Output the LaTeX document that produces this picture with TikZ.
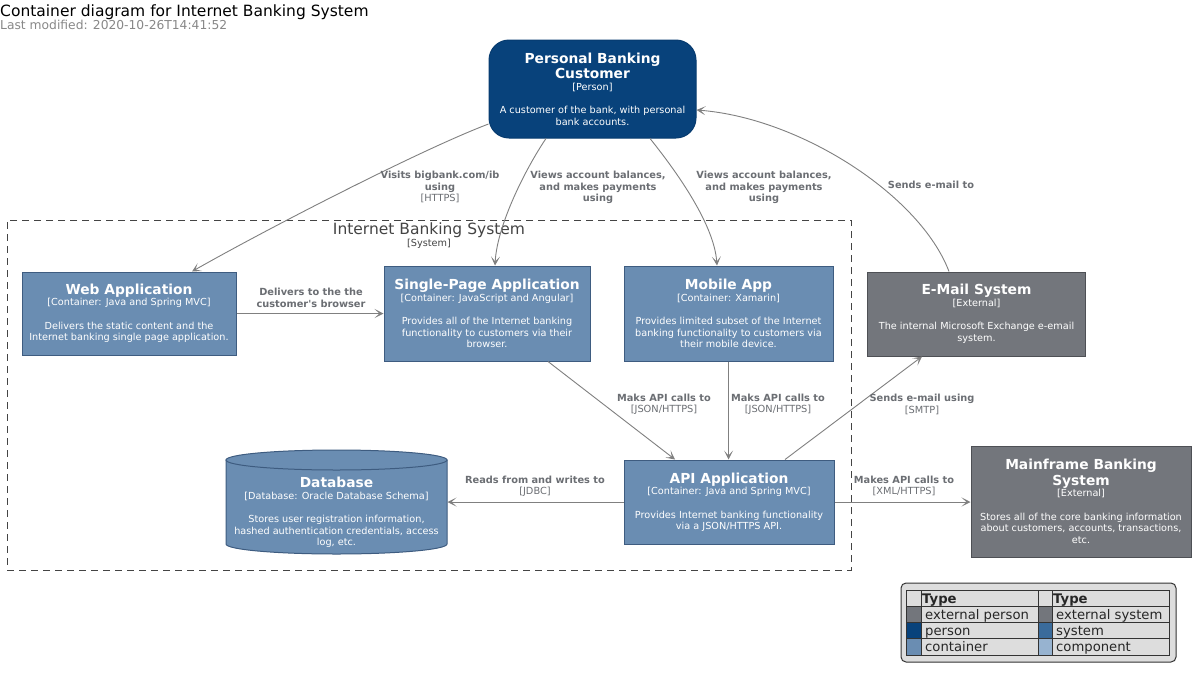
\documentclass[tikz,border=0pt]{standalone}
\usepackage{fontspec}
\setmainfont{DejaVu Sans}
\usetikzlibrary{arrows.meta}
\definecolor{personfill}{HTML}{08427B}
\definecolor{personline}{HTML}{073B6F}
\definecolor{contfill}{HTML}{6A8DB2}
\definecolor{contline}{HTML}{3E5C80}
\definecolor{extfill}{HTML}{73767C}
\definecolor{extline}{HTML}{4E5055}
\definecolor{relline}{HTML}{808080}
\definecolor{reltext}{HTML}{6B6E73}
\definecolor{bndline}{HTML}{444444}
\definecolor{legbg}{HTML}{DDDDDD}
\definecolor{legline}{HTML}{333333}
\definecolor{sysfill}{HTML}{3A6B9B}
\definecolor{compfill}{HTML}{97B3D0}
\definecolor{modgray}{HTML}{888888}
\newcommand{\ttl}[1]{{\fontsize{13.8}{16}\selectfont\bfseries #1}}
\newcommand{\sq}{{\XeTeXglyph\XeTeXcharglyph"27\relax}}
\begin{document}
\begin{tikzpicture}[x=1pt,y=-1pt,
  box/.style={align=center, inner sep=0pt, text=white, font=\fontsize{9.7}{11.5}\selectfont, line width=1pt},
  contbox/.style={box, draw=contline, fill=contfill},
  extbox/.style={box, draw=extline, fill=extfill},
  personbox/.style={box, draw=personline, fill=personfill, rounded corners=20pt},
  dbshape/.style={draw=contline, fill=contfill, line width=1pt},
  rel/.style={draw=relline, line width=0.9pt, -{Stealth[length=9pt,width=9pt,inset=5pt]}},
  rlabel/.style={align=center, inner sep=0pt, text=reltext, font=\fontsize{9.8}{11.5}\selectfont\bfseries},
  boundary/.style={draw=bndline, line width=1pt, dash pattern=on 7pt off 5pt, inner sep=0pt},
  legtxt/.style={anchor=base west, inner sep=0pt, font=\fontsize{13.2}{15}\selectfont, text=black!85},
  leggrid/.style={draw=legline, line width=1pt}]
\fill[white] (0,0) rectangle (1201,672);
\useasboundingbox (0,0) rectangle (1201,672);

% titles
\node[anchor=base west, inner sep=0pt, font=\fontsize{15.5}{18}\selectfont] (title) at (0,16) {Container diagram for Internet Banking System};
\node[anchor=base west, inner sep=0pt, font=\fontsize{12.3}{14}\selectfont, text=modgray] (modified) at (0,29) {Last modified: 2020-10-26T14:41:52};

% boundary
\node[boundary, minimum width=844pt, minimum height=350pt] (ibs) at (429,395) {};
\node[align=center, inner sep=0pt, text=bndline, font=\fontsize{9.7}{11.5}\selectfont] (ibslabel) at (429,235.5) {{\fontsize{15.5}{18}\selectfont Internet Banking System}\\{[System]}};

% person
\node[personbox, minimum width=207pt, minimum height=98pt] (person) at (592.5,89)
  {\ttl{Personal Banking}\\[1.5pt]\ttl{Customer}\\{[Person]}\\[12pt]A customer of the bank, with personal\\bank accounts.};

% containers
\node[contbox, minimum width=214pt, minimum height=83pt] (web) at (129,313.5)
  {\ttl{Web Application}\\{[Container: Java and Spring MVC]}\\[12pt]Delivers the static content and the\\Internet banking single page application.};
\node[contbox, minimum width=206pt, minimum height=95pt] (spa) at (487,313.5)
  {\ttl{Single-Page Application}\\{[Container: JavaScript and Angular]}\\[12pt]Provides all of the Internet banking\\functionality to customers via their\\browser.};
\node[contbox, minimum width=209pt, minimum height=95pt] (mobile) at (728.5,313.5)
  {\ttl{Mobile App}\\{[Container: Xamarin]}\\[12pt]Provides limited subset of the Internet\\banking functionality to customers via\\their mobile device.};
\node[contbox, minimum width=210pt, minimum height=84pt] (api) at (729,502)
  {\ttl{API Application}\\{[Container: Java and Spring MVC]}\\[12pt]Provides Internet banking functionality\\via a JSON/HTTPS API.};

% database cylinder
\path[dbshape] (226,460) -- (226,544) arc[start angle=180, end angle=0, x radius=110.5, y radius=10] -- (447,460) -- cycle;
\path[dbshape] (336.5,460) ellipse [x radius=110.5, y radius=10];
\node[box, minimum width=221pt] (db) at (336.5,512.3)
  {\ttl{Database}\\{[Database: Oracle Database Schema]}\\[12pt]Stores user registration information,\\hashed authentication credentials, access\\log, etc.};

% external systems
\node[extbox, minimum width=218pt, minimum height=84pt] (email) at (976.5,314)
  {\ttl{E-Mail System}\\{[External]}\\[12pt]The internal Microsoft Exchange e-email\\system.};
\node[extbox, minimum width=220pt, minimum height=111pt] (main) at (1081,501.5)
  {\ttl{Mainframe Banking}\\[1.2pt]\ttl{System}\\{[External]}\\[12pt]Stores all of the core banking information\\about customers, accounts, transactions,\\etc.};

% relations
\draw[rel] ([yshift=-35pt]person.west) .. controls (420,150) and (265,230) .. ([xshift=63pt]web.north);
\draw[rel] ([xshift=-46.5pt]person.south) .. controls (526,168) and (497,225) .. ([xshift=8pt]spa.north);
\draw[rel] ([xshift=57.5pt]person.south) .. controls (672,166) and (714,222) .. ([xshift=-11.5pt]mobile.north);
\draw[rel] ([xshift=-27.5pt]email.north) .. controls (920,195) and (800,118) .. ([yshift=-21pt]person.east);
\draw[rel] (web.east) -- (spa.west);
\draw[rel] ([xshift=61pt]spa.south) -- ([xshift=-54pt]api.north);
\draw[rel] (mobile.south) -- (mobile.south |- api.north);
\draw[rel] ([xshift=56pt]api.north) -- ([xshift=-54.5pt]email.south);
\draw[rel] (api.west) -- (api.west -| db.east);
\draw[rel] (api.east) -- (api.east -| main.west);

% relation labels
\node[rlabel] (l1) at (440,187.3) {Visits bigbank.com/ib\\using\\{\mdseries [HTTPS]}};
\node[rlabel] (l2) at (598,187.5) {Views account balances,\\and makes payments\\using};
\node[rlabel] (l3) at (764,187.5) {Views account balances,\\and makes payments\\using};
\node[rlabel] (l4) at (931,185.3) {Sends e-mail to};
\node[rlabel] (l5) at (311,298) {Delivers to the the\\customer\sq s browser};
\node[rlabel] (l6) at (664,404.5) {Maks API calls to\\{\mdseries [JSON/HTTPS]}};
\node[rlabel] (l7) at (778,404.5) {Maks API calls to\\{\mdseries [JSON/HTTPS]}};
\node[rlabel] (l8) at (922,404.5) {Sends e-mail using\\{\mdseries [SMTP]}};
\node[rlabel] (l9) at (535,486) {Reads from and writes to\\{\mdseries [JDBC]}};
\node[rlabel] (l10) at (904,486) {Makes API calls to\\{\mdseries [XML/HTTPS]}};

% legend
\draw[fill=legbg, draw=legline, line width=1pt, rounded corners=5pt] (901,583) rectangle (1176,662);
\fill[extfill] (906,606) rectangle (921,622);
\fill[extfill] (1038,606) rectangle (1052,622);
\fill[personfill] (906,622) rectangle (921,638);
\fill[sysfill] (1038,622) rectangle (1052,638);
\fill[contfill] (906,638) rectangle (921,655);
\fill[compfill] (1038,638) rectangle (1052,655);
\draw[leggrid] (906,590) rectangle (1169,655);
\draw[leggrid] (906,606) -- (1169,606);
\draw[leggrid] (906,622) -- (1169,622);
\draw[leggrid] (906,638) -- (1169,638);
\draw[leggrid] (921,590) -- (921,655);
\draw[leggrid] (1038,590) -- (1038,655);
\draw[leggrid] (1052,590) -- (1052,655);
\node[legtxt, font=\fontsize{13.2}{15}\selectfont\bfseries] (lt1) at (922,603) {Type};
\node[legtxt, font=\fontsize{13.2}{15}\selectfont\bfseries] (lt2) at (1053,603) {Type};
\node[legtxt] (lg1) at (925,619.3) {external person};
\node[legtxt] (lg2) at (925,635.3) {person};
\node[legtxt] (lg3) at (925,651) {container};
\node[legtxt] (lg4) at (1056,619.3) {external system};
\node[legtxt] (lg5) at (1056,635.3) {system};
\node[legtxt] (lg6) at (1056,651) {component};
\end{tikzpicture}
\end{document}
